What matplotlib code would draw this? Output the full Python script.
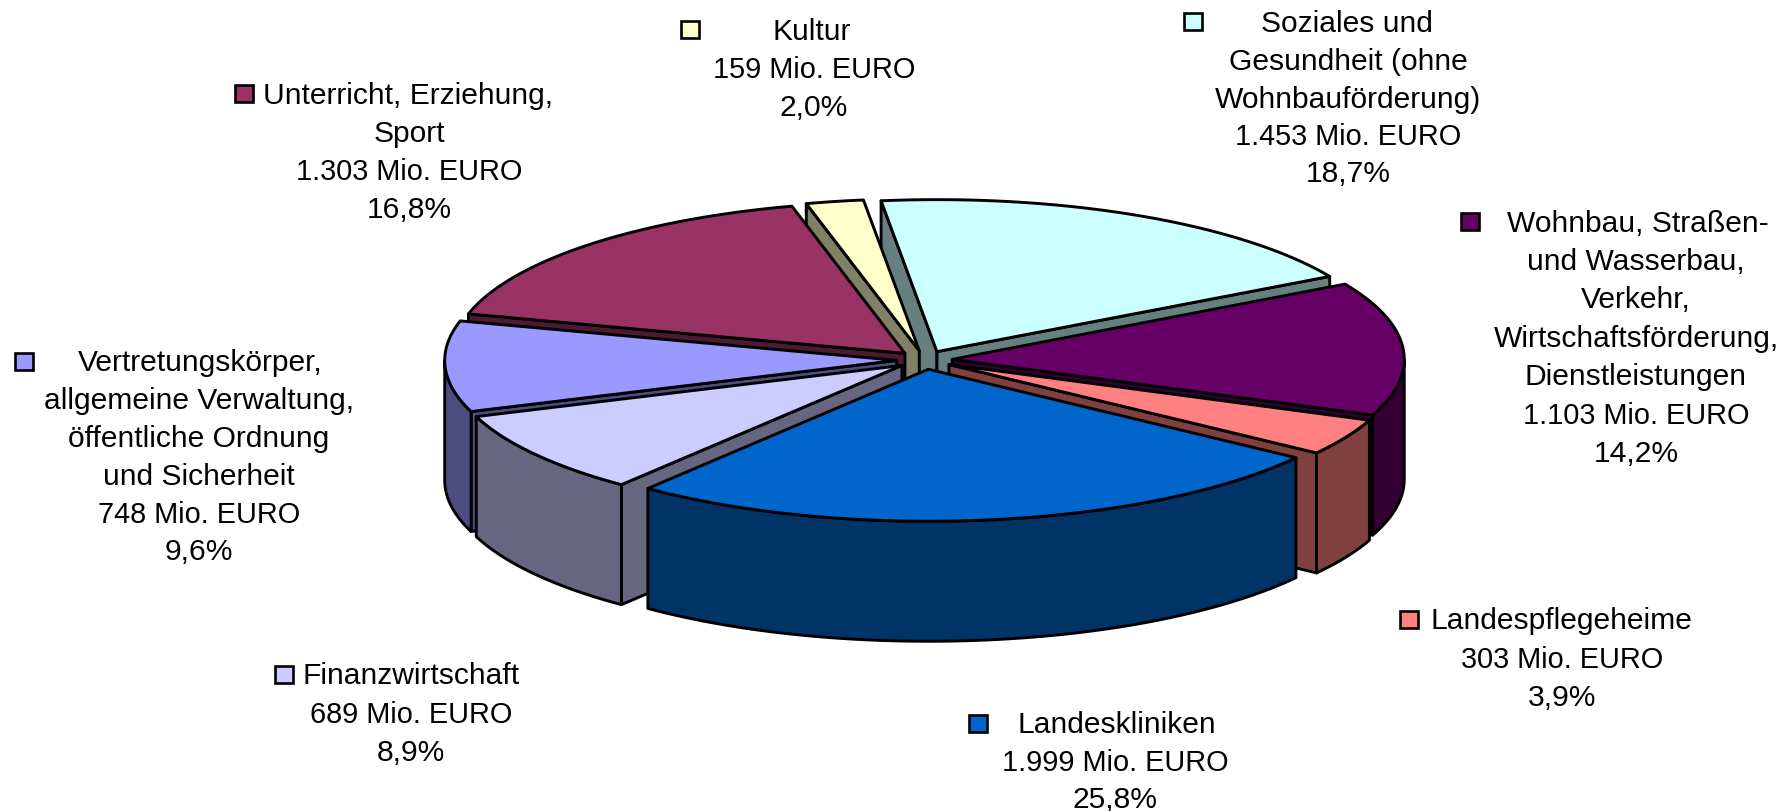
import numpy as np
import matplotlib
matplotlib.use("Agg")
import matplotlib.pyplot as plt
from matplotlib.patches import Polygon, Rectangle

plt.rcParams['font.family'] = ['Liberation Sans', 'DejaVu Sans']

# === Daten ===
names = [
    ["Soziales und", "Gesundheit (ohne", "Wohnbauförderung)"],
    ["Wohnbau, Straßen-", "und Wasserbau,", "Verkehr,", "Wirtschaftsförderung,", "Dienstleistungen"],
    ["Landespflegeheime"],
    ["Landeskliniken"],
    ["Finanzwirtschaft"],
    ["Vertretungskörper,", "allgemeine Verwaltung,", "öffentliche Ordnung", "und Sicherheit"],
    ["Unterricht, Erziehung,", "Sport"],
    ["Kultur"],
]
values = [1453, 1103, 303, 1999, 689, 748, 1303, 159]
value_labels = ["1.453", "1.103", "303", "1.999", "689", "748", "1.303", "159"]
percent_labels = ["18,7%", "14,2%", "3,9%", "25,8%", "8,9%", "9,6%", "16,8%", "2,0%"]
top_colors = ["#CCFFFF", "#660066", "#FF8080", "#0066CC", "#CCCCFF", "#9999FF", "#993366", "#FFFFCC"]

# === Layout (Pixel) ===
W, H = 1790, 812
CX, CY = 924.5, 361
RX, RY = 452, 152
DEPTH = 120
EXPLODE = 0.0615
START = -7.1

# von hinten nach vorne
draw_order = [0, 7, 6, 1, 5, 2, 4, 3]

# key x/y, x of first line, x of the other lines, y of first line, line step
label_pos = [
    (1193, 21, 1347, 1348, 22, 37.5),
    (1470, 221, 1638, 1636, 221, 38.5),
    (1409, 619, 1561, 1562, 619, 38.5),
    (978, 723, 1117, 1115, 723, 37.5),
    (284, 674, 411, 411, 674, 38.5),
    (24, 361, 200, 199, 361, 37.8),
    (244, 93, 408, 409, 93, 38.3),
    (690, 29, 812, 814, 29, 38.5),
]

fig = plt.figure(figsize=(W / 100, H / 100), dpi=100)
ax = fig.add_axes([0, 0, 1, 1])
ax.set_xlim(0, W)
ax.set_ylim(H, 0)
ax.axis("off")


def pt(c, theta):
    t = np.radians(theta)
    return np.column_stack([c[0] + RX * np.sin(t), c[1] - RY * np.cos(t)])


def darker(col):
    r, g, b = matplotlib.colors.to_rgb(col)
    return (r * 0.5, g * 0.5, b * 0.5)


shares = np.array(values) / sum(values) * 360
starts = START + np.concatenate([[0], np.cumsum(shares)[:-1]])
ends = starts + shares
mids = (starts + ends) / 2

for i in draw_order:
    a, b, m = starts[i], ends[i], np.radians(mids[i])
    c = (CX + EXPLODE * RX * np.sin(m), CY - EXPLODE * RY * np.cos(m))
    side = darker(top_colors[i])
    style = dict(edgecolor="black", linewidth=2.1, joinstyle="round")

    # Schnittflächen
    for th, visible in ((a, np.sin(np.radians(a)) < 0), (b, np.sin(np.radians(b)) > 0)):
        if visible:
            e = pt(c, np.array([th]))[0]
            ax.add_patch(Polygon([c, e, (e[0], e[1] + DEPTH), (c[0], c[1] + DEPTH)],
                                 facecolor=side, **style))

    # Außenwand, nur der vordere Teil
    lo, hi = max(a, 90), min(b, 270)
    if hi > lo:
        arc = pt(c, np.linspace(lo, hi, 80))
        low = arc[::-1] + [0, DEPTH]
        ax.add_patch(Polygon(np.vstack([arc, low]), facecolor=side, **style))

    # Deckfläche
    arc = pt(c, np.linspace(a, b, 120))
    ax.add_patch(Polygon(np.vstack([[c], arc]), facecolor=top_colors[i], **style))

# === Beschriftung ===
for i, (kx, ky, x1, x2, y0, step) in enumerate(label_pos):
    value_line = len(names[i])
    lines = names[i] + [value_labels[i] + " Mio. EURO", percent_labels[i]]
    for j, line in enumerate(lines):
        # Zahlenzeile läuft im Original etwas schmaler
        size = 20.8 if j == value_line else 21.6
        ax.text(x1 if j == 0 else x2, y0 + j * step + 2.5, line, fontsize=size,
                ha="center", va="center", color="black")
    ax.add_patch(Rectangle((kx - 9, ky - 7), 18, 17, facecolor=top_colors[i],
                           edgecolor="black", linewidth=1.9))

fig.savefig("out.png", dpi=100)
